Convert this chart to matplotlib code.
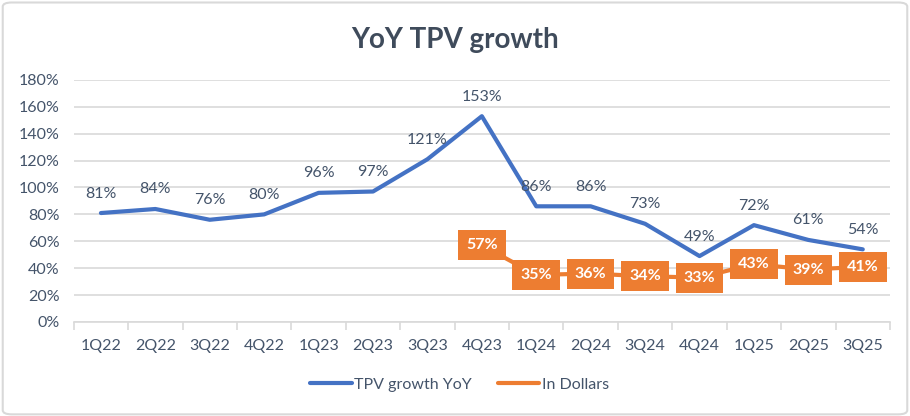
import matplotlib.pyplot as plt
from matplotlib.patches import FancyBboxPatch
from matplotlib.ticker import FuncFormatter, MultipleLocator

quarters = ['1Q22', '2Q22', '3Q22', '4Q22', '1Q23', '2Q23', '3Q23', '4Q23',
            '1Q24', '2Q24', '3Q24', '4Q24', '1Q25', '2Q25', '3Q25']
tpv_growth = [81, 84, 76, 80, 96, 97, 121, 153, 86, 86, 73, 49, 72, 61, 54]
dollar_quarters = quarters[7:]
in_dollars = [57, 35, 36, 34, 33, 43, 39, 41]

blue = '#4472C4'
orange = '#ED7D31'
text_col = '#44546A'
grid_col = '#D9D9D9'

plt.rcParams['font.family'] = ['Lato', 'DejaVu Sans']

fig = plt.figure(figsize=(9.1, 4.16), dpi=100)
ax = fig.add_axes([0.081, 0.226, 0.897, 0.582])

# rounded chart border
fig.patches.append(FancyBboxPatch((0.003, 0.004), 0.994, 0.99, boxstyle='round,pad=0,rounding_size=0.01',
                                  transform=fig.transFigure, fill=False, edgecolor=grid_col, linewidth=1.5))

x = list(range(len(quarters)))
xd = [quarters.index(q) for q in dollar_quarters]

ax.plot(x, tpv_growth, color=blue, linewidth=3, solid_capstyle='round', label='TPV growth YoY', zorder=3)
ax.plot(xd, in_dollars, color=orange, linewidth=3, solid_capstyle='round', label='In Dollars', zorder=3)

for xi, v in zip(x, tpv_growth):
    ax.annotate(f'{v}%', (xi, v), xytext=(0, 9), textcoords='offset points',
                ha='center', va='bottom', fontsize=11.5, color=text_col, zorder=4)

for xi, v in zip(xd, in_dollars):
    ax.text(xi, v, f'{v}%', ha='center', va='center', fontsize=11.5, fontweight='bold', color='white',
            bbox=dict(boxstyle='square,pad=0.5', facecolor=orange, edgecolor='none'), zorder=5)

ax.set_xlim(-0.5, len(quarters) - 0.5)
ax.set_ylim(0, 180)
ax.yaxis.set_major_locator(MultipleLocator(20))
ax.yaxis.set_major_formatter(FuncFormatter(lambda v, p: f'{v:.0f}%'))
ax.grid(axis='y', color=grid_col, linewidth=1.2)
ax.set_axisbelow(True)

ax.set_xticks(x)
ax.set_xticklabels(quarters)
ax.set_xticks([i - 0.5 for i in range(len(quarters) + 1)], minor=True)
ax.tick_params(axis='x', which='major', length=0, pad=12, labelsize=11.5, labelcolor=text_col)
ax.tick_params(axis='x', which='minor', length=6, color=grid_col, width=1.2)
ax.tick_params(axis='y', length=0, pad=10, labelsize=11.5, labelcolor=text_col)

for s in ['top', 'right', 'left']:
    ax.spines[s].set_visible(False)
ax.spines['bottom'].set_color(grid_col)
ax.spines['bottom'].set_linewidth(1.2)

fig.text(0.5, 0.905, 'YoY TPV growth', ha='center', va='center', fontsize=20, fontweight='bold', color='#3F4B5B')

fig.legend(loc='center', bbox_to_anchor=(0.505, 0.075), ncol=2, frameon=False, fontsize=11.5,
           labelcolor=text_col, handlelength=2.6, handletextpad=0.15, columnspacing=1.6)

plt.savefig('out.png', dpi=100)
